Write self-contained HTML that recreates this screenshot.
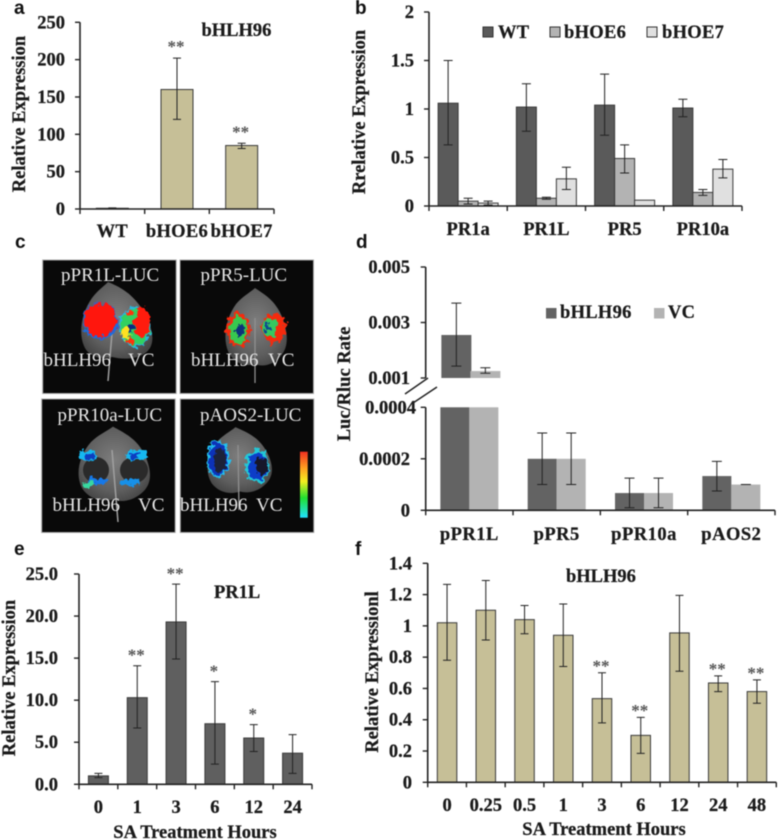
<!DOCTYPE html>
<html lang="en">
<head>
<meta charset="utf-8">
<title>bHLH96 expression figure</title>
<style>
html,body{margin:0;padding:0;background:#fff;width:778px;height:840px;overflow:hidden}
#figure{display:block;filter:blur(.45px);font-family:"Liberation Serif",serif}
#figure text{font-family:"Liberation Serif",serif}
.lbl{font-weight:bold;font-size:18.5px;fill:#1a1a1a;stroke:#1a1a1a;stroke-width:.25px}
.letter{font-family:"Liberation Sans",sans-serif !important;font-weight:bold;font-size:19px;fill:#111}
.star{font-size:17px;font-weight:bold;fill:#555}
.img{font-size:19px;fill:#e6e6e6}
</style>
</head>
<body>
<svg id="figure" xmlns="http://www.w3.org/2000/svg" width="778" height="840" viewBox="0 0 778 840">
  <defs>
    <radialGradient id="leafFill" cx=".5" cy=".45" r=".6">
      <stop offset="0" stop-color="#7e7e7e"/><stop offset=".7" stop-color="#5e5e5e"/><stop offset="1" stop-color="#454545"/>
    </radialGradient>
    <linearGradient id="scaleFill" x1="0" y1="0" x2="0" y2="1">
      <stop offset="0" stop-color="#f03020"/><stop offset=".25" stop-color="#ffa020"/><stop offset=".45" stop-color="#f4f020"/><stop offset=".7" stop-color="#20e030"/><stop offset="1" stop-color="#20e0ff"/>
    </linearGradient>
    <filter id="rough" x="-20%" y="-20%" width="140%" height="140%">
      <feTurbulence type="fractalNoise" baseFrequency=".2" numOctaves="2" seed="4"/>
      <feDisplacementMap in="SourceGraphic" scale="10" xChannelSelector="R" yChannelSelector="G"/>
    </filter>
    <path id="leafShape" d="M0 -40 C10 -34 24 -28 32 -10 C38 4 40 18 30 28 C20 38 8 39 0 36 C-10 39 -24 36 -31 24 C-38 10 -34 -10 -22 -24 C-14 -32 -8 -34 0 -40Z"/>
  </defs>
  <rect width="778" height="840" fill="#fff"/>

  <g id="panel-c">
    <!-- image 1 -->
    <g>
      <rect x="42.7" y="260" width="133.5" height="133.5" fill="#090909" stroke="#a8a8a8" stroke-width="1"/>
      <path d="M108 282 C118 286 130 292 140 306 C150 320 156 338 150 348 C142 360 124 360 112 357 C100 360 88 356 84 346 C78 332 82 312 92 298 C98 290 102 288 108 282Z" fill="url(#leafFill)"/>
      <path d="M112 333 L108 381" stroke="#a0a0a0" stroke-width="1.5" fill="none"/>
      <g filter="url(#rough)">
        <ellipse cx="100" cy="321" rx="18" ry="18" fill="#1c6be0"/>
        <ellipse cx="100" cy="320" rx="16.5" ry="16.5" fill="#ff1508"/>
        <ellipse cx="135" cy="327" rx="16" ry="20" fill="#25b8e0"/>
        <ellipse cx="135" cy="327" rx="14.5" ry="18" fill="#30d060"/>
        <ellipse cx="142" cy="322" rx="8" ry="15" fill="#ff1a0a"/>
        <ellipse cx="125" cy="333" rx="5" ry="6" fill="#ffe020"/>
        <ellipse cx="131" cy="327" rx="3" ry="3.5" fill="#0b2a80"/>
        <ellipse cx="130" cy="313" rx="4" ry="3" fill="#ff3010"/>
        <ellipse cx="130" cy="341" rx="4" ry="3" fill="#ff3010"/>
      </g>
      <text class="img" x="61" y="281">pPR1L-LUC</text>
      <text class="img" x="43.5" y="366">bHLH96</text>
      <text class="img" x="128" y="366">VC</text>
    </g>
    <!-- image 2 -->
    <g>
      <rect x="180" y="260" width="133.5" height="133.5" fill="#090909" stroke="#a8a8a8" stroke-width="1"/>
      <use href="#leafShape" transform="translate(255 328) scale(.86 1)" fill="url(#leafFill)"/>
      <path d="M255 318 L255 383" stroke="#909090" stroke-width="1.3" fill="none"/>
      <g filter="url(#rough)">
        <ellipse cx="238" cy="330" rx="12" ry="17" fill="#f52a10"/>
        <ellipse cx="239" cy="330" rx="9" ry="14" fill="#38c850"/>
        <ellipse cx="240" cy="331" rx="4.5" ry="7" fill="#10307a"/>
        <ellipse cx="274" cy="328" rx="12" ry="15" fill="#f52a10"/>
        <ellipse cx="270" cy="327" rx="7.5" ry="10" fill="#34c860"/>
        <ellipse cx="267" cy="328" rx="3" ry="4" fill="#104a90"/>
      </g>
      <text class="img" x="200.5" y="281">pPR5-LUC</text>
      <text class="img" x="191" y="366">bHLH96</text>
      <text class="img" x="268" y="366">VC</text>
    </g>
    <!-- image 3 -->
    <g>
      <rect x="41.7" y="399" width="133.5" height="133.5" fill="#090909" stroke="#a8a8a8" stroke-width="1"/>
      <use href="#leafShape" transform="translate(113 465) scale(1 .96)" fill="url(#leafFill)"/>
      <path d="M112 450 L118 522" stroke="#a0a0a0" stroke-width="1.5" fill="none"/>
      <ellipse cx="96" cy="470" rx="13" ry="13" fill="#2a2a2a"/>
      <ellipse cx="134" cy="470" rx="14" ry="13" fill="#2a2a2a"/>
      <g filter="url(#rough)">
        <ellipse cx="88" cy="456" rx="9" ry="6" fill="#18b8f0"/>
        <ellipse cx="90" cy="457" rx="5" ry="3.5" fill="#0a3ec0"/>
        <ellipse cx="97" cy="481" rx="10" ry="3.5" fill="#1478e8"/>
        <ellipse cx="88" cy="484" rx="4" ry="4" fill="#38d8a0"/>
        <ellipse cx="136" cy="455" rx="11" ry="5.5" fill="#18b8f0"/>
        <ellipse cx="134" cy="456" rx="5" ry="3" fill="#0a3ec0"/>
        <ellipse cx="131" cy="482" rx="11" ry="3.5" fill="#1290e8"/>
      </g>
      <text class="img" x="57.5" y="421">pPR10a-LUC</text>
      <text class="img" x="52.5" y="511">bHLH96</text>
      <text class="img" x="138" y="511">VC</text>
    </g>
    <!-- image 4 -->
    <g>
      <rect x="180.3" y="399" width="133.5" height="133.5" fill="#090909" stroke="#a8a8a8" stroke-width="1"/>
      <use href="#leafShape" transform="translate(238 461) scale(.9 .85) rotate(-4)" fill="url(#leafFill)"/>
      <path d="M238 445 L239 510" stroke="#909090" stroke-width="1.3" fill="none"/>
      <g filter="url(#rough)">
        <ellipse cx="218" cy="459" rx="11.5" ry="19" fill="#22c0f0"/>
        <ellipse cx="218" cy="459" rx="9.5" ry="17" fill="#0c32b8"/>
        <ellipse cx="220" cy="460" rx="6" ry="12" fill="#1c2238"/>
        <ellipse cx="257" cy="466" rx="12.5" ry="17" fill="#22c8d8"/>
        <ellipse cx="258" cy="466" rx="10" ry="14" fill="#0c3cc8"/>
        <ellipse cx="262" cy="466" rx="6" ry="8" fill="#14182c"/>
      </g>
      <rect x="300" y="451.7" width="7.7" height="66" fill="url(#scaleFill)"/>
      <text class="img" x="200" y="421">pAOS2-LUC</text>
      <text class="img" x="180" y="511">bHLH96</text>
      <text class="img" x="256" y="511">VC</text>
    </g>
  </g>
</svg>

<script>
/* ---------- Panel a ---------- */
const aCategories = ['WT', 'bHOE6', 'bHOE7'];
const aValues = [1, 160, 85];
const aErrLow = [0.5, 120, 81];
const aErrHigh = [1.5, 202, 88];
const aStars = ['', '**', '**'];
const aTicks = [0, 50, 100, 150, 200, 250];

/* ---------- Panel b ---------- */
const bCategories = ['PR1a', 'PR1L', 'PR5', 'PR10a'];
const bSeriesNames = ['WT', 'bHOE6', 'bHOE7'];
const bWT = [1.06, 1.02, 1.04, 1.01];
const bWTLow = [0.63, 0.77, 0.73, 0.92];
const bWTHigh = [1.5, 1.26, 1.36, 1.10];
const bHOE6 = [0.05, 0.08, 0.49, 0.14];
const bHOE6Low = [0.02, 0.07, 0.34, 0.11];
const bHOE6High = [0.08, 0.09, 0.63, 0.17];
const bHOE7 = [0.03, 0.28, 0.06, 0.38];
const bHOE7Low = [0.01, 0.17, 0.06, 0.29];
const bHOE7High = [0.05, 0.40, 0.06, 0.48];
const bTicks = [0, 0.5, 1, 1.5, 2];

/* ---------- Panel d ---------- */
const dCategories = ['pPR1L', 'pPR5', 'pPR10a', 'pAOS2'];
const dSeriesNames = ['bHLH96', 'VC'];
const dBhlh = [0.00255, 0.0002, 0.000067, 0.000133];
const dBhlhLow = [0.00143, 0.0001, 0.00001, 0.000075];
const dBhlhHigh = [0.0037, 0.0003, 0.000125, 0.00019];
const dVC = [0.00125, 0.0002, 0.000067, 0.0001];
const dVCLow = [0.00117, 0.0001, 0.00001, 0.0001];
const dVCHigh = [0.00137, 0.0003, 0.000125, 0.0001];
const dUpperTicks = ['0.001', '0.003', '0.005'];
const dLowerTicks = ['0', '0.0002', '0.0004'];

/* ---------- Panel e ---------- */
const eCategories = ['0', '1', '3', '6', '12', '24'];
const eValues = [1.0, 10.3, 19.3, 7.2, 5.5, 3.7];
const eErrLow = [0.8, 6.7, 14.9, 2.4, 3.9, 1.3];
const eErrHigh = [1.3, 14.1, 23.8, 12.2, 7.1, 5.9];
const eStars = ['', '**', '**', '*', '*', ''];
const eTicks = ['0.0', '5.0', '10.0', '15.0', '20.0', '25.0'];

/* ---------- Panel f ---------- */
const fCategories = ['0', '0.25', '0.5', '1', '3', '6', '12', '24', '48'];
const fValues = [1.02, 1.10, 1.04, 0.94, 0.535, 0.30, 0.955, 0.635, 0.58];
const fErrLow = [0.78, 0.91, 0.95, 0.74, 0.38, 0.185, 0.71, 0.58, 0.505];
const fErrHigh = [1.265, 1.29, 1.13, 1.14, 0.70, 0.415, 1.195, 0.68, 0.655];
const fStars = ['', '', '', '', '**', '**', '', '**', '**'];
const fTicks = ['0', '0.2', '0.4', '0.6', '0.8', '1', '1.2', '1.4'];

/* ---------- helpers ---------- */
const NS = 'http://www.w3.org/2000/svg';
const root = document.getElementById('figure');

function mk(tag, attrs, parent) {
  const el = document.createElementNS(NS, tag);
  for (const k in attrs) el.setAttribute(k, attrs[k]);
  parent.appendChild(el);
  return el;
}
function linear(d0, d1, r0, r1) {
  return function (v) { return r0 + (v - d0) * (r1 - r0) / (d1 - d0); };
}
function band(n, r0, r1) {
  const w = (r1 - r0) / n;
  return function (i) { return r0 + w * (i + 0.5); };
}
function txt(parent, x, y, s, cls, anchor) {
  const el = mk('text', { x: x, y: y, class: cls, 'text-anchor': anchor || 'start' }, parent);
  el.textContent = s;
  return el;
}
function line(parent, x1, y1, x2, y2, color, w) {
  return mk('line', { x1: x1, y1: y1, x2: x2, y2: y2, stroke: color, 'stroke-width': w }, parent);
}
function panel(name) {
  const g = mk('g', {}, root);
  
  
  return g;
}
function letter(g, s, x, y) {
  const el = txt(g, x, y, s, 'letter');
  
  
}
function yTitle(g, s, x, cy) {
  const el = txt(g, 0, 0, s, 'lbl', 'middle');
  el.setAttribute('transform', 'translate(' + x + ' ' + cy + ') rotate(-90)');
  
  
}
function plainTitle(g, s, x, y, name, anchor) {
  const el = txt(g, x, y, s, 'lbl', anchor || 'start');
  
  
  return el;
}
function yTick(g, label, y, axisX, labelRight) {
  const t = line(g, axisX - 5, y, axisX, y, '#222', 1.4);
  
  
  const l = txt(g, labelRight, y + 6, label, 'lbl', 'end');
  
  
}
function xAxis(g, x0, x1, y, n) {
  const a = line(g, x0, y, x1, y, '#222', 1.6);
  
  
  for (let i = 0; i <= n; i++) {
    const tx = x0 + (x1 - x0) * i / n;
    const t = line(g, tx, y, tx, y + 5, '#222', 1.4);
    
    
  }
}
function yAxisLine(g, x, y0, y1) {
  const a = line(g, x, y0, x, y1, '#222', 1.6);
  
  
}
function bar(g, cx, w, yTop, yBase, fill, stroke, name) {
  const r = mk('rect', { x: cx - w / 2, y: Math.min(yTop, yBase), width: w, height: Math.abs(yBase - yTop), fill: fill, stroke: stroke, 'stroke-width': stroke === 'none' ? 0 : 1 }, g);
  
  
}
function errBar(g, cx, yLow, yHigh, cap, name) {
  const s = mk('path', {
    d: 'M' + (cx - cap / 2) + ' ' + yHigh + 'H' + (cx + cap / 2) + 'M' + cx + ' ' + yHigh + 'V' + yLow + 'M' + (cx - cap / 2) + ' ' + yLow + 'H' + (cx + cap / 2),
    fill: 'none', stroke: '#222', 'stroke-width': 1
  }, g);
  
  
}
function star(g, cx, y, s) {
  if (!s) return;
  const el = txt(g, cx, y, s, 'star', 'middle');
  
  
}
function xLabel(g, cx, y, s, spacing) {
  const el = txt(g, cx, y, s, 'lbl', 'middle');
  if (spacing) el.setAttribute('letter-spacing', spacing);
  
  
}
function legend(g, x, y, size, tx, baseline, fill, stroke, s) {
  const sw = mk('rect', { x: x, y: y, width: size, height: size, fill: fill, stroke: stroke, 'stroke-width': stroke === 'none' ? 0 : 1 }, g);
  
  
  const el = txt(g, tx, baseline, s, 'lbl');
  el.setAttribute('letter-spacing', '.3');
  
  
}

/* ---------- single-series bar chart (a, e, f) ---------- */
function simpleChart(g, o) {
  const y = linear(0, o.maxV, o.y0, o.yTop);
  const x = band(o.categories.length, o.x0, o.x1);
  yAxisLine(g, o.x0, o.y0, o.yTop);
  o.ticks.forEach(function (t, i) {
    const v = o.minTick + i * (o.maxV - o.minTick) / (o.ticks.length - 1);
    yTick(g, String(t), y(v), o.x0, o.labelRight);
  });
  o.categories.forEach(function (c, i) {
    bar(g, x(i), o.barW, y(o.values[i]), o.y0, o.fill, '#3a3a3a', 'bar-' + c);
    errBar(g, x(i), y(o.low[i]), y(o.high[i]), o.cap, 'error-bar-' + c);
    star(g, x(i) - 1, y(o.high[i]) - o.starGap, o.stars[i]);
    xLabel(g, x(i) + (o.labelShift ? o.labelShift[i] : 0), o.labelY, c, o.labelSpacing);
  });
  xAxis(g, o.x0, o.x1, o.y0, o.categories.length);
}

/* a */
const pa = panel('chart-a');
letter(pa, 'a', 14, 14);
simpleChart(pa, { x0: 80, x1: 274, y0: 209, yTop: 22.3, maxV: 250, minTick: 0, ticks: aTicks, labelRight: 65, categories: aCategories, values: aValues, low: aErrLow, high: aErrHigh, stars: aStars, fill: '#c6bf97', barW: 32, cap: 8, starGap: 6, labelY: 237, labelSpacing: '.3' });
yTitle(pa, 'Relative Expression', 25, 114);
plainTitle(pa, 'bHLH96', 201.5, 36, 'chart-title-a');

/* b */
const pb = panel('chart-b');
letter(pb, 'b', 355, 14);
(function () {
  const x0 = 429, x1 = 742, y0 = 206, yTop = 12;
  const y = linear(0, 2, y0, yTop);
  const x = band(bCategories.length, x0, x1);
  const series = [
    { vals: bWT, low: bWTLow, high: bWTHigh, fill: '#5a5a5a' },
    { vals: bHOE6, low: bHOE6Low, high: bHOE6High, fill: '#b3b3b3' },
    { vals: bHOE7, low: bHOE7Low, high: bHOE7High, fill: '#e0e0e0' }
  ];
  yAxisLine(pb, x0, y0, yTop);
  bTicks.forEach(function (t) { yTick(pb, String(t), y(t), x0, 414); });
  bCategories.forEach(function (c, i) {
    series.forEach(function (s, j) {
      const cx = x(i) + (j - 1) * 20;
      bar(pb, cx, 20, y(s.vals[i]), y0, s.fill, '#3a3a3a', 'bar-' + c + '-' + bSeriesNames[j]);
      if (s.high[i] !== s.low[i]) errBar(pb, cx, y(s.low[i]), y(s.high[i]), 9, 'error-bar-' + c + '-' + bSeriesNames[j]);
    });
    xLabel(pb, x(i), 235, c);
  });
  xAxis(pb, x0, x1, y0, bCategories.length);
})();
yTitle(pb, 'Rrelative Expression', 365, 112);
legend(pb, 483, 27, 10, 498, 38, '#5a5a5a', '#333', bSeriesNames[0]);
legend(pb, 550, 27, 10, 564, 38, '#b3b3b3', '#333', bSeriesNames[1]);
legend(pb, 647, 27, 10, 662, 38, '#e0e0e0', '#333', bSeriesNames[2]);

/* c */
letter(root, 'c', 15, 248);

/* d */
const pd = panel('chart-d');
letter(pd, 'd', 356, 248);
(function () {
  const x0 = 425.7, x1 = 775, y0 = 510.3, yLowerTop = 407.3, yBreak = 378, yTop = 267;
  const yLower = linear(0, 0.0004, y0, yLowerTop);
  const yUpper = linear(0.001, 0.005, yBreak, yTop);
  const x = band(dCategories.length, x0, x1);
  const series = [
    { vals: dBhlh, low: dBhlhLow, high: dBhlhHigh, fill: '#636363' },
    { vals: dVC, low: dVCLow, high: dVCHigh, fill: '#b3b3b3' }
  ];
  yAxisLine(pd, x0, yBreak, yTop);
  yAxisLine(pd, x0, y0, yLowerTop);
  dUpperTicks.forEach(function (t) { yTick(pd, t, yUpper(parseFloat(t)), x0, 410); });
  dLowerTicks.forEach(function (t) { yTick(pd, t, yLower(parseFloat(t)), x0, t === '0.0004' ? 416 : 410); });
  dCategories.forEach(function (c, i) {
    series.forEach(function (s, j) {
      const cx = x(i) + (j - 0.5) * 29;
      const v = s.vals[i];
      bar(pd, cx, 29, yLower(Math.min(v, 0.0004)), y0, s.fill, 'none', 'bar-' + c + '-' + dSeriesNames[j]);
      if (v > 0.0004) {
        bar(pd, cx + 1.5, 30, yUpper(Math.max(v, 0.001)), yBreak, s.fill, 'none', 'bar-upper-' + c + '-' + dSeriesNames[j]);
        errBar(pd, cx + 1.5, yUpper(s.low[i]), yUpper(s.high[i]), 10, 'error-bar-upper-' + c + '-' + dSeriesNames[j]);
      } else {
        errBar(pd, cx, yLower(s.low[i]), yLower(s.high[i]), 10, 'error-bar-' + c + '-' + dSeriesNames[j]);
      }
    });
    xLabel(pd, x(i), 540, c, '.5');
  });
  xAxis(pd, x0, x1, y0, dCategories.length);
  const s1 = line(pd, 405, 394, 428, 378, '#222', 1.5);
  
  
  const s2 = line(pd, 413, 403, 437, 387, '#222', 1.5);
  
  
})();
yTitle(pd, 'Luc/Rluc Rate', 350, 384);
legend(pd, 546, 308, 10.5, 560, 318, '#636363', 'none', dSeriesNames[0]);
legend(pd, 654, 308, 10.5, 668, 318, '#b3b3b3', 'none', dSeriesNames[1]);

/* e */
const pe = panel('chart-e');
letter(pe, 'e', 14, 555);
simpleChart(pe, { x0: 79, x1: 312, y0: 784.3, yTop: 574, maxV: 25, minTick: 0, ticks: eTicks, labelRight: 58, categories: eCategories, values: eValues, low: eErrLow, high: eErrHigh, stars: eStars, fill: '#5f5f5f', barW: 20, cap: 8, starGap: 5, labelY: 813 });
yTitle(pe, 'Relative Expression', 15, 678);
plainTitle(pe, 'PR1L', 214, 598, 'chart-title-e');
plainTitle(pe, 'SA Treatment Hours', 195, 838, 'x-axis-title', 'middle');

/* f */
const pf = panel('chart-f');
letter(pf, 'f', 355, 555);
simpleChart(pf, { x0: 427.7, x1: 776.3, y0: 782.3, yTop: 563.3, maxV: 1.4, minTick: 0, ticks: fTicks, labelRight: 412, categories: fCategories, values: fValues, low: fErrLow, high: fErrHigh, stars: fStars, fill: '#c6bf97', barW: 19.5, cap: 8, starGap: 1.5, labelY: 811 });
yTitle(pf, 'Relative Expressionl', 378, 672);
plainTitle(pf, 'bHLH96', 566, 582, 'chart-title-f');
plainTitle(pf, 'SA Treatment Hours', 604, 835, 'x-axis-title', 'middle');
</script>
</body>
</html>
